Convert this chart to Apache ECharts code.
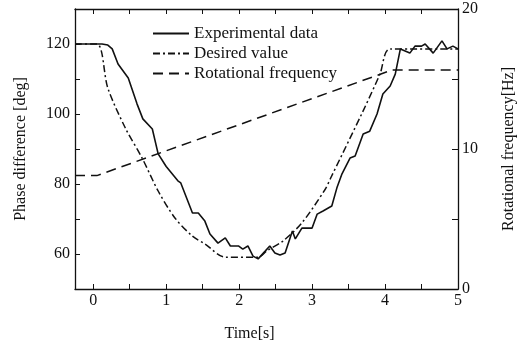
<html style="height: 100%">
<head>
	<meta charset="utf-8">
	<script type="text/javascript" src="https://cdn.jsdelivr.net/npm/echarts@6/dist/echarts.min.js"></script>
</head>

<body style="height: 100%; margin: 0; background: #fff">
	<div id="container" style="height:349px;width:518px"></div>
</body>

<script type="text/javascript">
	var dom = document.getElementById("container");
	var myChart = echarts.init(dom);

	// experimental data (solid)
	let expTime = [-0.25, 0.12, 0.2, 0.26, 0.34, 0.48, 0.6, 0.68, 0.81, 0.89, 1.0, 1.16, 1.2, 1.36, 1.44, 1.53, 1.6, 1.71, 1.81, 1.88, 1.99, 2.05, 2.12, 2.19, 2.26, 2.36, 2.42, 2.49, 2.56, 2.63, 2.73, 2.77, 2.86, 3.0, 3.07, 3.15, 3.27, 3.34, 3.41, 3.52, 3.59, 3.70, 3.79, 3.89, 3.97, 4.07, 4.14, 4.21, 4.34, 4.41, 4.5, 4.55, 4.66, 4.78, 4.85, 4.93, 5.0]
	let expPhase = [120, 120, 119.7, 118.6, 114.3, 110.3, 102.9, 98.6, 95.7, 88.6, 85, 80.9, 80.3, 71.7, 71.7, 69.4, 65.7, 63.1, 64.6, 62.3, 62.3, 61.4, 62.3, 59.4, 58.6, 60.9, 62.3, 60.3, 59.7, 60.3, 66.6, 64.3, 67.4, 67.4, 71.4, 72.3, 73.7, 78.9, 82.9, 87.4, 88, 94.3, 95.1, 100, 105.7, 108, 111.4, 118.6, 117.4, 119.4, 119.4, 120, 117.4, 120.9, 118.6, 119.4, 118.6]

	// desired value (dash-dot)
	let desTime = [-0.25, 0.05, 0.2, 0.44, 0.67, 0.89, 1.12, 1.36, 1.53, 1.81, 2.26, 2.38, 2.6, 2.86, 3.18, 3.25, 3.70, 3.93, 4.07, 5.0]
	let desPhase = [120, 120, 107.4, 96, 87.4, 78, 70.3, 65.1, 62.9, 59.1, 59.1, 60.9, 63.7, 68.9, 78.5, 81.5, 100.9, 111.4, 118.6, 118.6]

	// rotational frequency (dashed, right axis)
	let freqTime = [-0.25, 0.05, 4.1, 5.0]
	let freqHz = [8.1, 8.1, 15.65, 15.65]

	// tick marks / labels
	let xLabels = [0, 1, 2, 3, 4, 5]
	let xTicks = [0, 0.5, 1, 1.5, 2, 2.5, 3, 3.5, 4, 4.5, 5]
	let yLabels = [60, 80, 100, 120]
	let yTicks = [60, 70, 80, 90, 100, 110, 120]
	let y2Labels = [0, 10, 20]
	let y2Ticks = [5, 10, 15]

	function pairs(xs, ys) {
		return xs.map((x, i) => [x, ys[i]])
	}

	var font = 'Liberation Serif, Times New Roman, serif'
	var ink = '#111'

	var option = {
		animation: false,
		textStyle: { fontFamily: font, color: ink },
		grid: { left: 75, right: 60, top: 9, bottom: 60, outerBoundsMode: 'none' },
		legend: {
			left: 152,
			top: 25,
			padding: 0,
			orient: 'vertical',
			itemWidth: 36,
			itemHeight: 14,
			itemGap: 3,
			itemStyle: { opacity: 0 },
			textStyle: { fontFamily: font, fontSize: 17, color: ink },
			data: ['Experimental data', 'Desired value', 'Rotational frequency']
		},
		xAxis: [
			{
				type: 'value', min: -0.25, max: 5,
				name: 'Time[s]', nameLocation: 'middle', nameGap: 37,
				nameTextStyle: { fontFamily: font, fontSize: 16, color: ink, padding: [0, 34, 0, 0] },
				axisLine: { onZero: false, lineStyle: { color: ink, width: 1.3 } },
				axisTick: { inside: true, length: 5, customValues: xTicks, lineStyle: { color: ink } },
				axisLabel: { customValues: xLabels, fontFamily: font, fontSize: 16, color: ink, margin: 4 },
				splitLine: { show: false }
			},
			{
				type: 'value', min: -0.25, max: 5, position: 'top',
				axisLine: { onZero: false, lineStyle: { color: ink, width: 1.3 } },
				axisTick: { inside: true, length: 5, customValues: xTicks, lineStyle: { color: ink } },
				axisLabel: { show: false },
				splitLine: { show: false }
			}
		],
		yAxis: [
			{
				type: 'value', min: 50, max: 130,
				name: 'Phase difference [deg]', nameLocation: 'middle', nameGap: 46, nameRotate: 90,
				nameTextStyle: { fontFamily: font, fontSize: 16, color: ink },
				axisLine: { show: true, onZero: false, lineStyle: { color: ink, width: 1.3 } },
				axisTick: { show: true, inside: true, length: 5, customValues: yTicks, lineStyle: { color: ink } },
				axisLabel: { customValues: yLabels, fontFamily: font, fontSize: 16, color: ink, margin: 5 },
				splitLine: { show: false }
			},
			{
				type: 'value', min: 0, max: 20, position: 'right',
				name: 'Rotational frequency[Hz]', nameLocation: 'middle', nameGap: 43, nameRotate: 90,
				nameTextStyle: { fontFamily: font, fontSize: 16, color: ink },
				axisLine: { show: true, onZero: false, lineStyle: { color: ink, width: 1.3 } },
				axisTick: { show: true, inside: true, length: 6, customValues: y2Ticks, lineStyle: { color: ink } },
				axisLabel: { customValues: y2Labels, fontFamily: font, fontSize: 16, color: ink, margin: 4 },
				splitLine: { show: false }
			}
		],
		series: [
			{
				name: 'Experimental data',
				type: 'line',
				xAxisIndex: 0, yAxisIndex: 0,
				symbol: 'none',
				itemStyle: { color: ink },
				lineStyle: { color: ink, width: 1.6 },
				data: pairs(expTime, expPhase)
			},
			{
				name: 'Desired value',
				type: 'line',
				xAxisIndex: 0, yAxisIndex: 0,
				symbol: 'none', smooth: 0.3,
				itemStyle: { color: ink },
				lineStyle: { color: ink, width: 1.5, type: [7, 3, 2, 3] },
				data: pairs(desTime, desPhase)
			},
			{
				name: 'Rotational frequency',
				type: 'line',
				xAxisIndex: 0, yAxisIndex: 1,
				symbol: 'none',
				itemStyle: { color: ink },
				lineStyle: { color: ink, width: 1.5, type: [10, 6] },
				data: pairs(freqTime, freqHz)
			}
		]
	};

	myChart.setOption(option);
</script>

</html>
